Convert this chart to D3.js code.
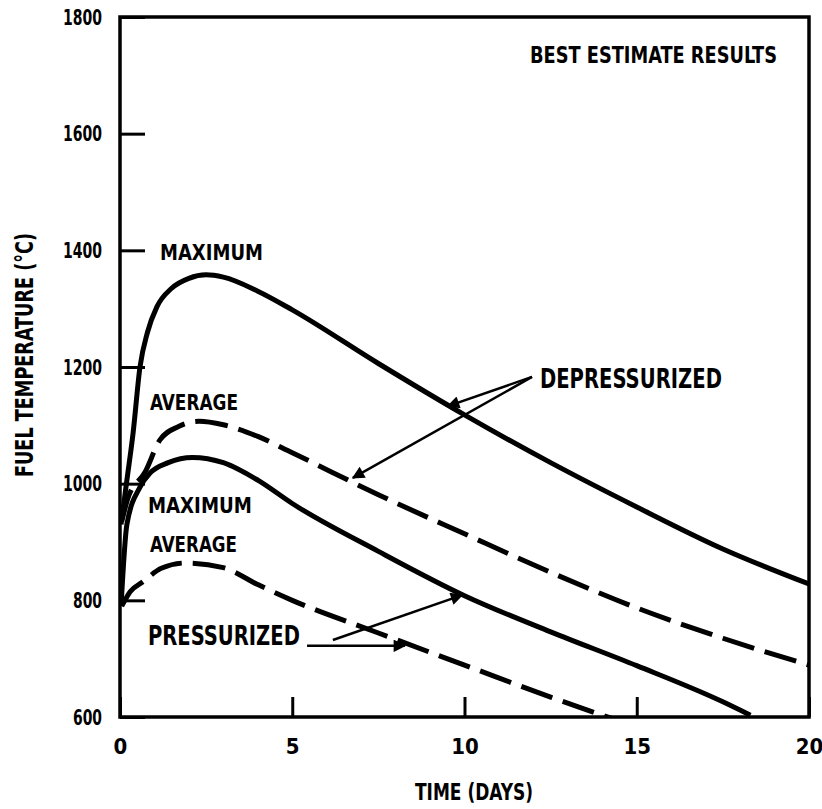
<!DOCTYPE html>
<meta charset="utf-8">
<head>
<script src="https://d3js.org/d3.v7.min.js"></script>
<style>
  body { margin: 0; background: #fff; }
  text { font-family: "Liberation Sans Narrow", "DejaVu Sans Condensed", sans-serif; font-weight: bold; fill: #000; }
</style>
</head>
<body>
<div id="my_dataviz"></div>
<script>

    // values (day, fuel temperature °C)
    var depMaxDays  = [0.03, 0.2, 0.38, 0.58, 0.8, 1.07, 1.5, 2.0, 2.5, 3.0, 4.0, 5, 7.5, 10, 12.5, 15, 17.5, 20];
    var depMaxTemps = [930, 1006, 1087, 1200, 1260, 1303, 1335, 1352, 1358, 1354, 1330, 1298, 1206, 1118, 1036, 960, 888, 828];

    var depAvgDays  = [0.05, 0.23, 0.73, 1.16, 1.7, 2.3, 3.0, 4.0, 5, 7.5, 10, 12.5, 15, 17.5, 20];
    var depAvgTemps = [935, 975, 1020, 1075, 1098, 1107, 1101, 1081, 1053, 981, 914, 848, 787, 735, 689];

    var prMaxDays  = [0.03, 0.2, 0.58, 0.87, 1.4, 2.1, 3.0, 4.0, 5, 7.5, 10, 12.5, 15, 17.5, 18.3];
    var prMaxTemps = [790, 930, 994, 1018, 1036, 1045, 1036, 1006, 966, 884, 808, 746, 688, 626, 603];

    var prAvgDays  = [0.05, 0.3, 0.67, 1.2, 1.9, 3.0, 4.0, 5, 7.5, 10, 12.5, 14.3];
    var prAvgTemps = [790, 815, 832, 855, 864, 856, 827, 800, 744, 689, 634, 597];

    var xTicks = [0, 5, 10, 15, 20];
    var yTicks = [600, 800, 1000, 1200, 1400, 1600, 1800];

    // set the dimensions and margins of the graph
    var margin = {top: 17, right: 13, bottom: 92, left: 120},
        width = 822 - margin.left - margin.right,
        height = 809 - margin.top - margin.bottom;

    var svg = d3.select("#my_dataviz")
      .append("svg")
        .attr("width", width + margin.left + margin.right)
        .attr("height", height + margin.top + margin.bottom)
      .append("g")
        .attr("transform", "translate(" + margin.left + "," + margin.top + ")");

    var x = d3.scaleLinear().domain([0, 20]).range([0, width]);
    var y = d3.scaleLinear().domain([600, 1800]).range([height, 0]);

    // X axis, ticks pointing inward
    var xAxis = svg.append("g")
      .attr("transform", "translate(0," + height + ")")
      .call(d3.axisBottom(x).tickValues(xTicks).tickSize(-20).tickPadding(21).tickFormat(d3.format("d")));
    xAxis.select(".domain").remove();
    xAxis.selectAll("line").attr("stroke-width", 3);
    xAxis.selectAll("text").style("font-size", "22px").attr("fill", "#000");

    // Y axis
    var yAxis = svg.append("g")
      .call(d3.axisLeft(y).tickValues(yTicks).tickSize(-25).tickPadding(18).tickFormat(d3.format("d")));
    yAxis.select(".domain").remove();
    yAxis.selectAll("line").attr("stroke-width", 3);
    yAxis.selectAll("text").style("font-size", "22px").attr("fill", "#000")
      .attr("textLength", function (d) { return String(d).length * 10 - 1; })
      .attr("lengthAdjust", "spacingAndGlyphs");

    // frame
    svg.append("rect")
      .attr("x", 0).attr("y", 0)
      .attr("width", width).attr("height", height)
      .attr("fill", "none").attr("stroke", "#000").attr("stroke-width", 3.5);

    svg.append("clipPath").attr("id", "plot")
      .append("rect").attr("width", width).attr("height", height);

    var line = d3.line()
      .x(function (d) { return x(d[0]); })
      .y(function (d) { return y(d[1]); })
      .curve(d3.curveMonotoneX);

    var series = [
      {days: depMaxDays, temps: depMaxTemps, dash: null},
      {days: depAvgDays, temps: depAvgTemps, dash: "33,11"},
      {days: prMaxDays,  temps: prMaxTemps,  dash: null},
      {days: prAvgDays,  temps: prAvgTemps,  dash: "33,11"}
    ];

    svg.append("g").attr("clip-path", "url(#plot)")
      .selectAll("path")
      .data(series)
      .enter()
      .append("path")
        .attr("d", function (s) { return line(d3.zip(s.days, s.temps)); })
        .attr("fill", "none")
        .attr("stroke", "#000")
        .attr("stroke-width", 5)
        .attr("stroke-dasharray", function (s) { return s.dash; });

    // arrowheads
    svg.append("defs").append("marker")
      .attr("id", "head")
      .attr("viewBox", "0 0 10 10")
      .attr("refX", 9).attr("refY", 5)
      .attr("markerWidth", 6).attr("markerHeight", 5)
      .attr("markerUnits", "strokeWidth")
      .attr("orient", "auto")
      .append("path").attr("d", "M0,0 L10,5 L0,10 z").attr("fill", "#000");

    // annotation arrows [fromDay, fromTemp, toDay, toTemp]
    var arrows = [
      [11.96, 1183, 9.52, 1133],
      [11.96, 1183, 6.76, 1010],
      [5.43, 722, 8.27, 722],
      [6.18, 732, 9.93, 809]
    ];
    svg.append("g").selectAll("line")
      .data(arrows)
      .enter()
      .append("line")
        .attr("x1", function (d) { return x(d[0]); })
        .attr("y1", function (d) { return y(d[1]); })
        .attr("x2", function (d) { return x(d[2]); })
        .attr("y2", function (d) { return y(d[3]); })
        .attr("stroke", "#000")
        .attr("stroke-width", 2.5)
        .attr("marker-end", "url(#head)");

    // labels [text, day, temp, size, length]
    var labels = [
      ["MAXIMUM", 1.16, 1383, 22, 103],
      ["AVERAGE", 0.87, 1126, 22, 88],
      ["MAXIMUM", 0.81, 950, 22, 104],
      ["AVERAGE", 0.87, 883, 22, 87],
      ["PRESSURIZED", 0.81, 723, 26, 152],
      ["DEPRESSURIZED", 12.19, 1164, 27, 182],
      ["BEST ESTIMATE RESULTS", 11.9, 1721, 23, 247]
    ];
    svg.append("g").selectAll("text")
      .data(labels)
      .enter()
      .append("text")
        .attr("x", function (d) { return x(d[1]); })
        .attr("y", function (d) { return y(d[2]); })
        .style("font-size", function (d) { return d[3] + "px"; })
        .attr("textLength", function (d) { return d[4]; })
        .attr("lengthAdjust", "spacingAndGlyphs")
        .text(function (d) { return d[0]; });

    // X label
    svg.append("text")
      .attr("x", 354)
      .attr("y", 783)
      .attr("text-anchor", "middle")
      .style("font-size", "23px")
      .attr("textLength", 118).attr("lengthAdjust", "spacingAndGlyphs")
      .text("TIME (DAYS)");

    // Y label
    svg.append("text")
      .attr("transform", "translate(-87," + 338 + ")rotate(-90)")
      .attr("text-anchor", "middle")
      .style("font-size", "24px")
      .attr("textLength", 244).attr("lengthAdjust", "spacingAndGlyphs")
      .text("FUEL TEMPERATURE (°C)");

</script>
</body>
</html>
